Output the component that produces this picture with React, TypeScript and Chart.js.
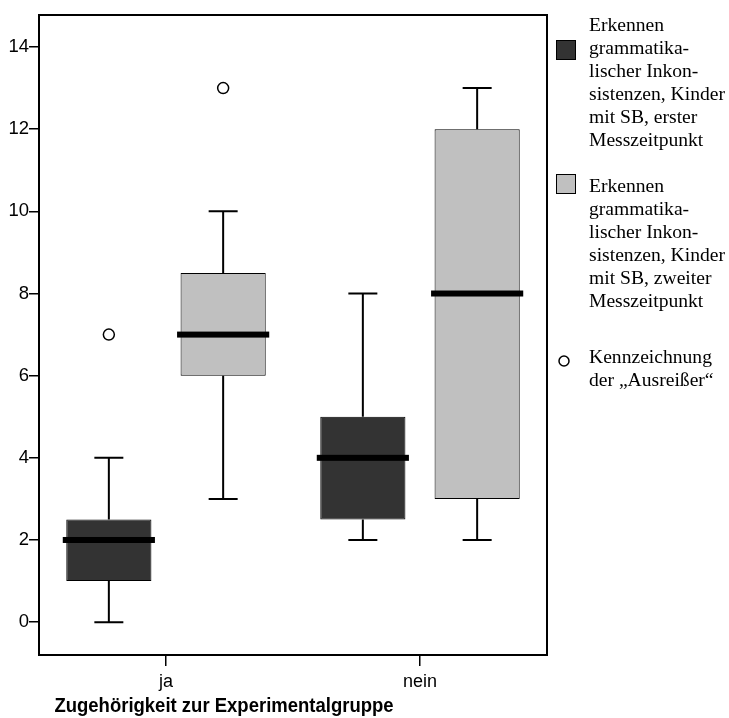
import React, { useEffect, useRef } from "react";
import { Chart, registerables } from "chart.js";

Chart.register(...registerables);

// Groups on the x axis
const groups = ["ja", "nein"];

// First measurement (dark boxes)
const firstMin = [0, 2];
const firstQ1 = [1, 2.5];
const firstMedian = [2, 4];
const firstQ3 = [2.5, 5];
const firstMax = [4, 8];
const firstOutliers = [[7], []];

// Second measurement (light boxes)
const secondMin = [3, 2];
const secondQ1 = [6, 3];
const secondMedian = [7, 8];
const secondQ3 = [8.5, 12];
const secondMax = [10, 13];
const secondOutliers = [[13], []];

const yTicks = [0, 2, 4, 6, 8, 10, 12, 14];

const legendFirst = [
  "Erkennen",
  "grammatika-",
  "lischer Inkon-",
  "sistenzen, Kinder",
  "mit SB, erster",
  "Messzeitpunkt",
];
const legendSecond = [
  "Erkennen",
  "grammatika-",
  "lischer Inkon-",
  "sistenzen, Kinder",
  "mit SB, zweiter",
  "Messzeitpunkt",
];
const legendOutlier = ["Kennzeichnung", "der \u201EAusrei\u00DFer\u201C"];
const axisTitle = "Zugeh\u00F6rigkeit zur Experimentalgruppe";

const DARK = "#333333";
const LIGHT = "#c0c0c0";
const SANS = "'Liberation Sans', Arial, Helvetica, sans-serif";
const SERIF = "'Liberation Serif', 'Times New Roman', serif";

const series = [
  { min: firstMin, q1: firstQ1, median: firstMedian, q3: firstQ3, max: firstMax, outliers: firstOutliers, color: DARK },
  { min: secondMin, q1: secondQ1, median: secondMedian, q3: secondQ3, max: secondMax, outliers: secondOutliers, color: LIGHT },
];

// Whiskers, medians, outliers, frame, legend and axis title
const boxPlotPlugin = {
  id: "boxPlotDetails",
  afterDatasetsDraw(chart: any) {
    const { ctx } = chart;
    const y = chart.scales.y;
    series.forEach((s, di) => {
      const meta = chart.getDatasetMeta(di);
      meta.data.forEach((bar: any, i: number) => {
        const { x, width } = bar.getProps(["x", "width"], true);
        const yMin = y.getPixelForValue(s.min[i]);
        const yQ1 = y.getPixelForValue(s.q1[i]);
        const yQ3 = y.getPixelForValue(s.q3[i]);
        const yMax = y.getPixelForValue(s.max[i]);
        const yMed = y.getPixelForValue(s.median[i]);
        const cap = 14.5;
        ctx.save();
        ctx.strokeStyle = "#000";
        ctx.lineWidth = 2;
        ctx.beginPath();
        ctx.moveTo(x, yQ3);
        ctx.lineTo(x, yMax);
        ctx.moveTo(x - cap, yMax);
        ctx.lineTo(x + cap, yMax);
        ctx.moveTo(x, yQ1);
        ctx.lineTo(x, yMin);
        ctx.moveTo(x - cap, yMin);
        ctx.lineTo(x + cap, yMin);
        ctx.stroke();
        // median bar
        ctx.fillStyle = "#000";
        ctx.fillRect(x - width / 2 - 3.5, yMed - 3, width + 7, 6);
        // outliers
        s.outliers[i].forEach((v: number) => {
          const yo = y.getPixelForValue(v);
          ctx.beginPath();
          ctx.arc(x, yo, 5.5, 0, Math.PI * 2);
          ctx.fillStyle = "#fff";
          ctx.fill();
          ctx.lineWidth = 1.5;
          ctx.stroke();
        });
        ctx.restore();
      });
    });
  },
  afterDraw(chart: any) {
    const { ctx, chartArea } = chart;
    const { left, top, right, bottom } = chartArea;
    ctx.save();
    // frame
    ctx.strokeStyle = "#000";
    ctx.lineWidth = 2;
    ctx.strokeRect(left, top, right - left, bottom - top);

    // axis title (slightly tall lettering)
    ctx.fillStyle = "#000";
    ctx.font = `bold 18.5px ${SANS}`;
    ctx.textAlign = "center";
    ctx.textBaseline = "alphabetic";
    ctx.save();
    ctx.translate(left + 185, chart.height - 6);
    ctx.scale(1, 1.12);
    ctx.fillText(axisTitle, 0, 0);
    ctx.restore();

    // legend
    const tx = right + 42;
    const lh = 23;
    ctx.font = `19.6px ${SERIF}`;
    ctx.textAlign = "left";
    legendFirst.forEach((t, k) => ctx.fillText(t, tx, 31 + k * lh));
    legendSecond.forEach((t, k) => ctx.fillText(t, tx, 192 + k * lh));
    legendOutlier.forEach((t, k) => ctx.fillText(t, tx, 363 + k * lh));

    ctx.lineWidth = 1;
    ctx.fillStyle = DARK;
    ctx.fillRect(right + 9.5, 40.5, 19, 19);
    ctx.strokeRect(right + 9.5, 40.5, 19, 19);
    ctx.fillStyle = LIGHT;
    ctx.fillRect(right + 9.5, 174.5, 19, 19);
    ctx.strokeRect(right + 9.5, 174.5, 19, 19);
    ctx.beginPath();
    ctx.arc(right + 17, 361, 5, 0, Math.PI * 2);
    ctx.fillStyle = "#fff";
    ctx.fill();
    ctx.lineWidth = 1.5;
    ctx.stroke();
    ctx.restore();
  },
};

export default function App() {
  const canvasRef = useRef<HTMLCanvasElement | null>(null);

  useEffect(() => {
    if (!canvasRef.current) return;
    const chart = new Chart(canvasRef.current, {
      type: "bar",
      data: {
        labels: groups,
        datasets: series.map((s, di) => ({
          label: di === 0 ? "erster Messzeitpunkt" : "zweiter Messzeitpunkt",
          data: groups.map((_, i) => [s.q1[i], s.q3[i]]),
          backgroundColor: s.color,
          borderColor: "#000",
          borderWidth: 1,
          borderSkipped: false,
          categoryPercentage: 0.9,
          barPercentage: 0.745,
        })),
      },
      options: {
        animation: false,
        responsive: true,
        maintainAspectRatio: false,
        events: [],
        layout: { padding: { top: 15, right: 182, left: 0, bottom: 0 } },
        plugins: {
          legend: { display: false },
          tooltip: { enabled: false },
        },
        scales: {
          x: {
            type: "category",
            offset: true,
            border: { display: false },
            grid: {
              display: true,
              offset: false,
              drawOnChartArea: false,
              drawTicks: true,
              tickLength: 11,
              color: "#000",
              lineWidth: 1.5,
            },
            ticks: {
              color: "#000",
              font: { family: SANS, size: 18 },
              padding: 5,
            },
            afterFit(scale: any) {
              scale.height = 63;
            },
          },
          y: {
            type: "linear",
            min: -0.8,
            max: 14.78,
            border: { display: false },
            grid: {
              display: true,
              drawOnChartArea: false,
              drawTicks: true,
              tickLength: 10,
              color: "#000",
              lineWidth: 1.5,
            },
            ticks: {
              color: "#000",
              font: { family: SANS, size: 18.5 },
              padding: 0,
            },
            afterBuildTicks(scale: any) {
              scale.ticks = yTicks.map((v) => ({ value: v }));
            },
            afterFit(scale: any) {
              scale.width = 39;
            },
          },
        },
      },
      plugins: [boxPlotPlugin],
    });
    return () => chart.destroy();
  }, []);

  return (
    <div style={{ position: "absolute", left: 0, top: 0, width: 729, height: 718, background: "#fff" }}>
      <canvas ref={canvasRef} />
    </div>
  );
}
